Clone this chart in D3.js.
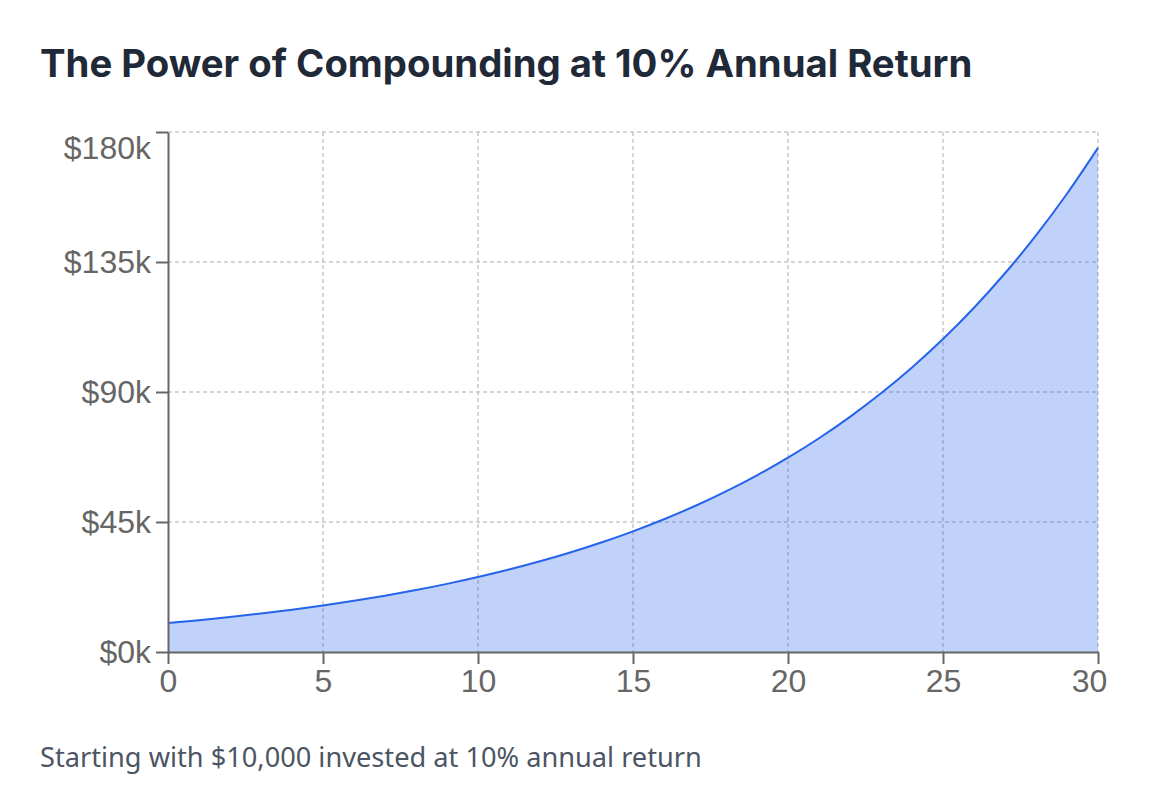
<!DOCTYPE html>
<html>
<head>
<meta charset="utf-8">
<script src="https://cdn.jsdelivr.net/npm/d3@7"></script>
<style>
  body { margin: 0; background: #fff; }
  svg { display: block; }
  .title { font-family: Inter, "Noto Sans", sans-serif; font-weight: 700; fill: #1f2937; }
  .subtitle { font-family: "Noto Sans", Arial, sans-serif; fill: #4b5563; }
  .axis text { font-family: "Liberation Sans", Arial, sans-serif; fill: #666; }
  .axis path, .axis line { stroke: #666; }
  .grid line { stroke: #c8c8c8; stroke-dasharray: 4,3; stroke-width: 1.5; }
</style>
</head>
<body>
<svg id="chart" width="1154" height="787"></svg>
<script>
// years since start
const years = [0, 1, 2, 3, 4, 5, 6, 7, 8, 9, 10, 11, 12, 13, 14, 15, 16, 17, 18, 19, 20,
  21, 22, 23, 24, 25, 26, 27, 28, 29, 30];

// portfolio value in dollars
const values = [10000, 11000, 12100, 13310, 14641, 16105, 17716, 19487, 21436, 23579,
  25937, 28531, 31384, 34523, 37975, 41772, 45950, 50545, 55599, 61159, 67275,
  74002, 81403, 89543, 98497, 108347, 119182, 131100, 144210, 158631, 174494];

const xTicks = [0, 5, 10, 15, 20, 25, 30];
const yTicks = [0, 45000, 90000, 135000, 180000];

const titleText = "The Power of Compounding at 10% Annual Return";
const subtitleText = "Starting with $10,000 invested at 10% annual return";

let svg = d3.select("#chart");

let margin = { left: 168, top: 132, right: 56, bottom: 135 };
let width = 1154 - margin.left - margin.right;
let height = 787 - margin.top - margin.bottom;

let data = years.map((y, i) => ({ year: y, value: values[i] }));

let x = d3.scaleLinear().domain([0, 30]).range([0, width]);
let y = d3.scaleLinear().domain([0, 180000]).range([height, 0]);

svg.append("text")
  .attr("class", "title")
  .attr("x", 40)
  .attr("y", 77)
  .attr("font-size", 38.3)
  .text(titleText);

svg.append("text")
  .attr("class", "subtitle")
  .attr("x", 40)
  .attr("y", 767)
  .attr("font-size", 27.2)
  .text(subtitleText);

let g = svg.append("g").attr("transform", `translate(${margin.left},${margin.top})`);

// grid
let grid = g.append("g").attr("class", "grid");
grid.selectAll(".gx")
  .data(xTicks.filter(d => d > 0))
  .join("line")
  .attr("x1", d => x(d)).attr("x2", d => x(d))
  .attr("y1", 0).attr("y2", height);
grid.selectAll(".gy")
  .data(yTicks.filter(d => d > 0))
  .join("line")
  .attr("x1", 0).attr("x2", width)
  .attr("y1", d => y(d)).attr("y2", d => y(d));

// area + line
let area = d3.area()
  .x(d => x(d.year))
  .y0(height)
  .y1(d => y(d.value))
  .curve(d3.curveMonotoneX);

let line = d3.line()
  .x(d => x(d.year))
  .y(d => y(d.value))
  .curve(d3.curveMonotoneX);

g.append("path")
  .datum(data)
  .attr("d", area)
  .attr("fill", "#2563eb")
  .attr("fill-opacity", 0.29);

g.append("path")
  .datum(data)
  .attr("d", line)
  .attr("fill", "none")
  .attr("stroke", "#2563eb")
  .attr("stroke-width", 2);

// axes
let xAxis = g.append("g")
  .attr("class", "axis")
  .attr("transform", `translate(0,${height})`)
  .call(d3.axisBottom(x).tickValues(xTicks).tickSize(12).tickPadding(5).tickSizeOuter(0));

let yAxis = g.append("g")
  .attr("class", "axis")
  .call(d3.axisLeft(y).tickValues(yTicks).tickSize(12).tickPadding(5).tickSizeOuter(0)
    .tickFormat(d => "$" + d / 1000 + "k"));

g.selectAll(".axis text").attr("font-size", 32);
g.selectAll(".axis path").attr("stroke-width", 2);
g.selectAll(".axis line").attr("stroke-width", 2);

// top label sits lower so it stays inside the plot top
yAxis.selectAll(".tick text")
  .filter(d => d === yTicks[yTicks.length - 1])
  .attr("dy", "0.82em");

// last year label is nudged left
xAxis.selectAll(".tick text")
  .filter(d => d === xTicks[xTicks.length - 1])
  .attr("dx", -9);
</script>
</body>
</html>
